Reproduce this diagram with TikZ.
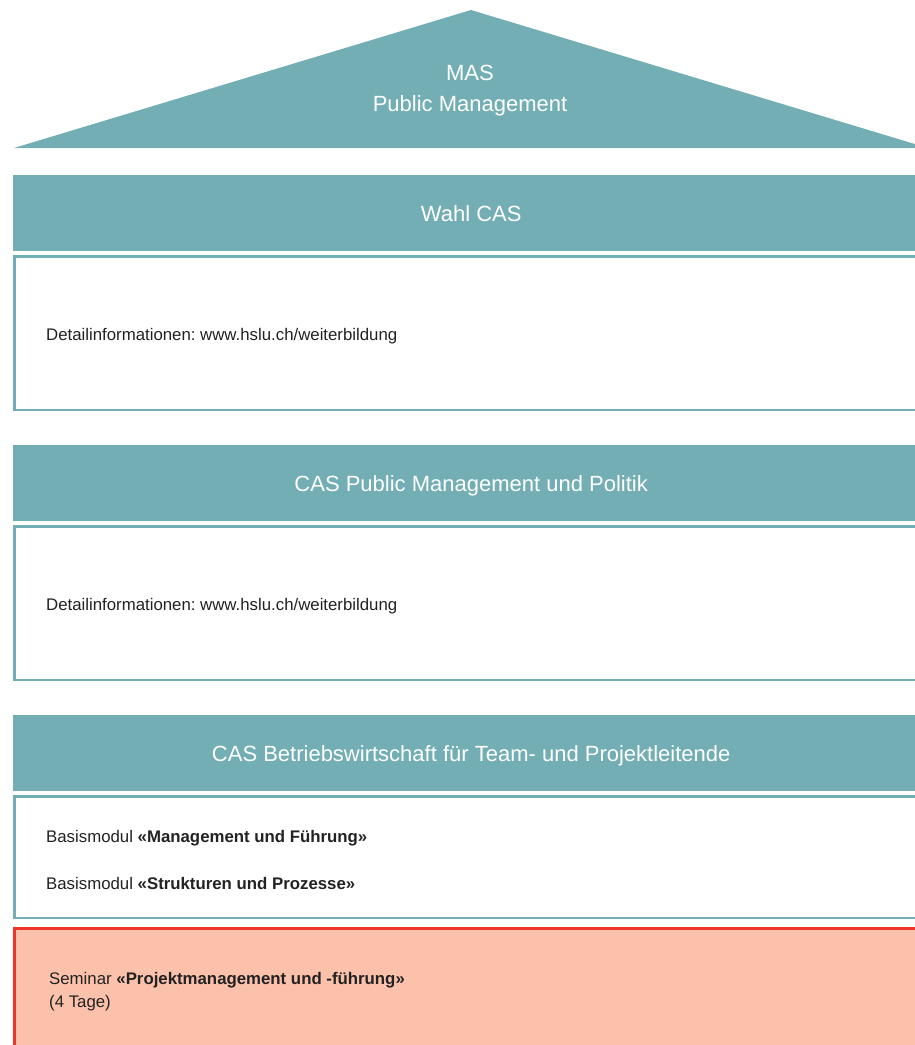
\documentclass[tikz,border=0pt]{standalone}
\usepackage{fontspec}
\setmainfont{Liberation Sans}
\usetikzlibrary{positioning}
\definecolor{hsluteal}{RGB}{114,174,180}
\definecolor{seminarfill}{RGB}{251,193,170}
\definecolor{seminarred}{RGB}{238,52,40}
\definecolor{infotext}{RGB}{34,34,34}
\frenchspacing
\tikzset{
  header/.style={fill=hsluteal,text=white,anchor=north west,inner sep=0pt,
    minimum width=916pt,minimum height=76pt,text height=16pt,text depth=0pt,
    font=\fontsize{22}{26}\selectfont},
  infobox/.style={draw=hsluteal,line width=2.5pt,anchor=north west,inner sep=0pt,
    minimum width=940pt},
  seminarbox/.style={infobox,draw=seminarred,fill=seminarfill,line width=3pt},
  info/.style={anchor=west,inner sep=0pt,text=infotext,align=left,
    font=\fontsize{16.8}{23}\selectfont}
}
\begin{document}
\begin{tikzpicture}[x=1pt,y=-1pt]
      \useasboundingbox (0,0) rectangle (915,1045);
      \clip (0,0) rectangle (915,1045);
      % roof
      \fill[hsluteal] (14,148) -- (471,10) -- (928,148) -- cycle;
      \node[text=white,align=center,font=\fontsize{22}{31}\selectfont] (mas) at (470,91)
        {MAS\\Public Management};

      % Wahl CAS
      \node[header] (wahl) at (13,175) {Wahl CAS};
      \node[infobox,minimum height=153.5pt] (wahlbox) at (13,255) {};
      \node[info,right=33pt of wahlbox.west,yshift=-3pt] (wahlinfo)
        {Detailinformationen: www.hslu.ch/weiterbildung};

      % CAS Public Management und Politik
      \node[header] (politik) at (13,445) {CAS Public Management und Politik};
      \node[infobox,minimum height=153.5pt] (politikbox) at (13,525) {};
      \node[info,right=33pt of politikbox.west,yshift=-3pt] (politikinfo)
        {Detailinformationen: www.hslu.ch/weiterbildung};

      % CAS Betriebswirtschaft
      \node[header] (bw) at (13,715) {CAS Betriebswirtschaft für Team- und Projektleitende};
      \node[infobox,minimum height=121.5pt] (bwbox) at (13,795) {};
      \node[info,right=33pt of bwbox.west,yshift=19pt] (mgmt)
        {Basismodul \textbf{«Management und Führung»}};
      \node[info,right=33pt of bwbox.west,yshift=-26pt] (struktur)
        {Basismodul \textbf{«Strukturen und Prozesse»}};

      % Seminar
      \node[seminarbox,minimum height=160pt] (seminar) at (13,927) {};
      \node[info,anchor=north west] (seminarinfo) at (49,972)
        {Seminar \textbf{«Projektmanagement und -führung»}\\(4 Tage)};
    \end{tikzpicture}
\end{document}
